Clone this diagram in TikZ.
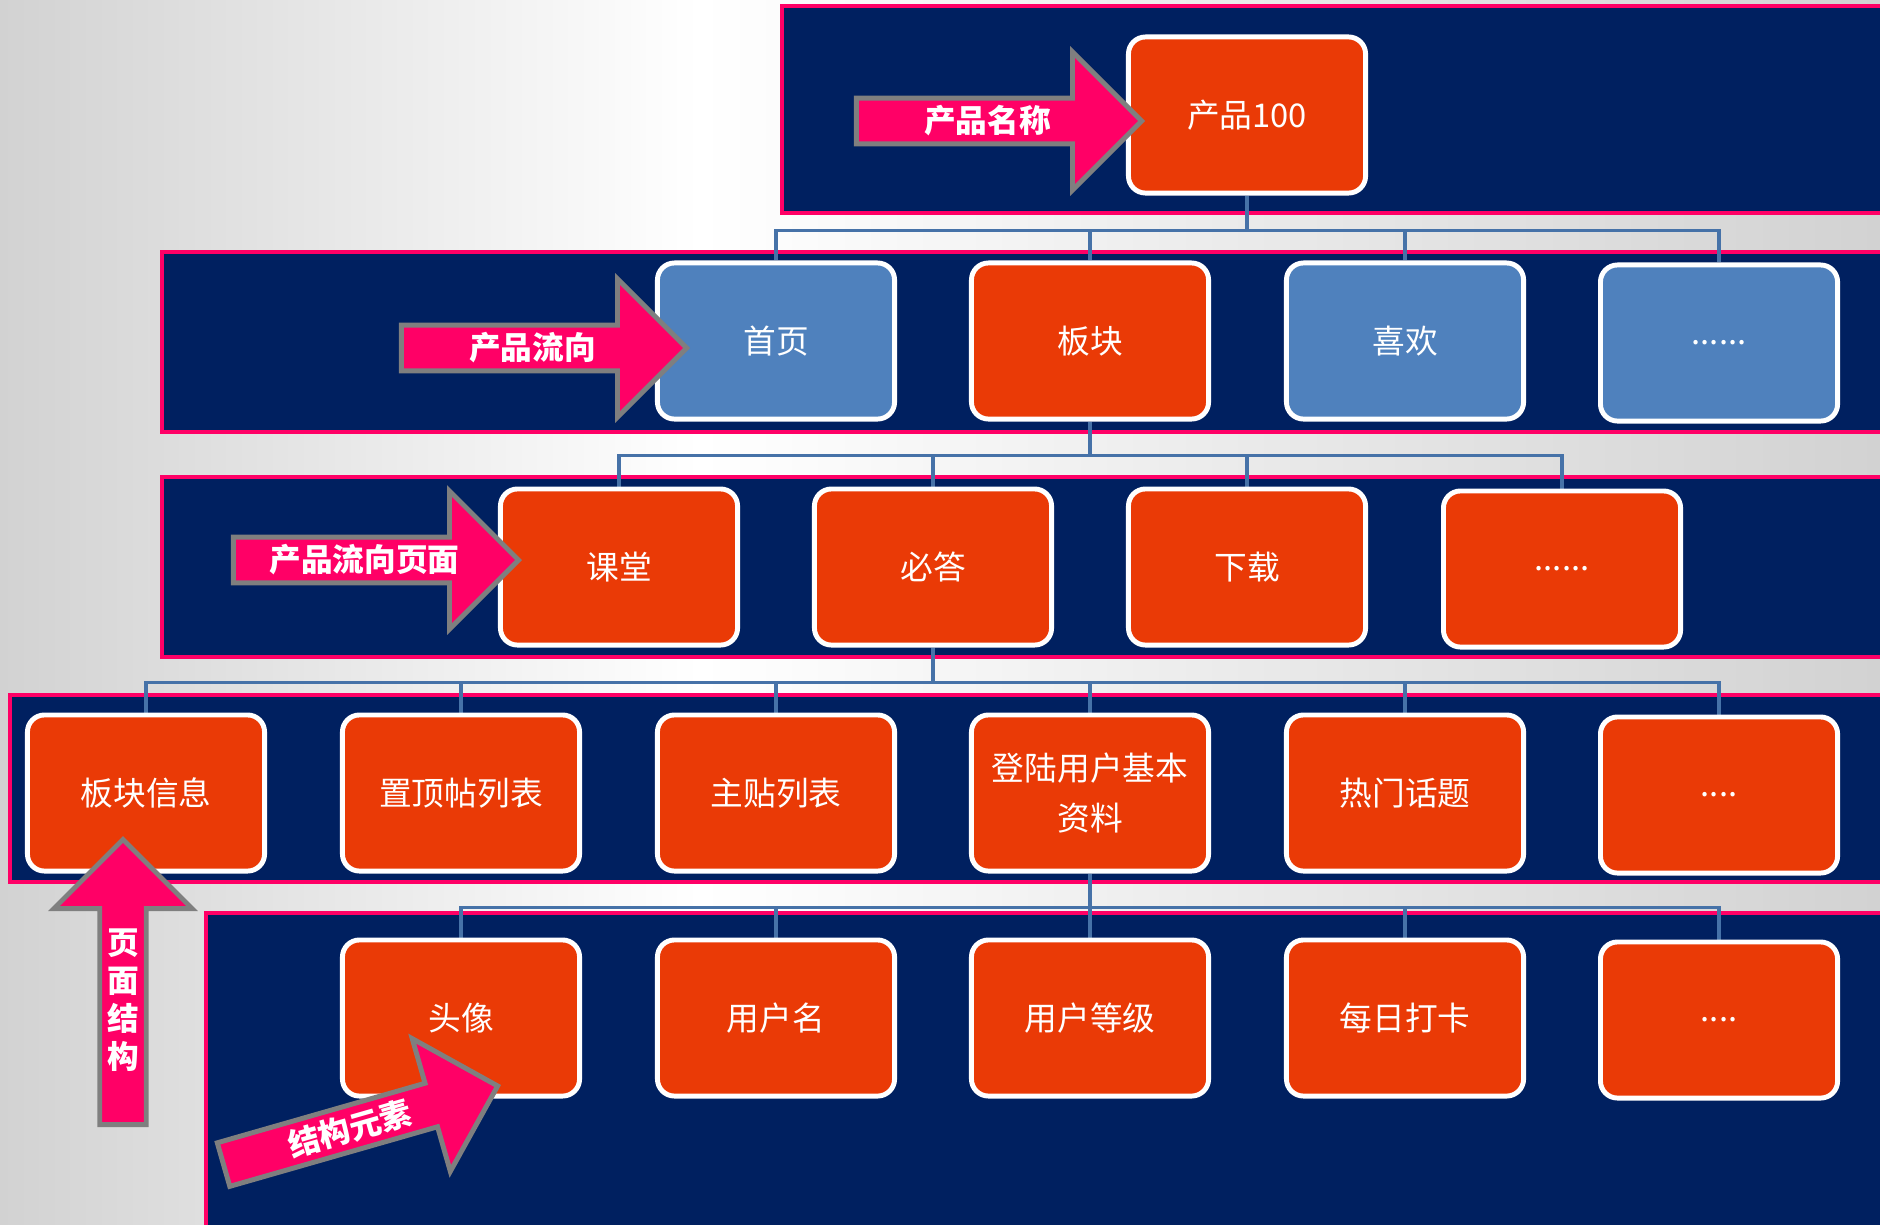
\documentclass[tikz,border=0pt]{standalone}
\usepackage{fontspec}
\newfontfamily\cjk{Noto Sans CJK SC}
\usetikzlibrary{shapes.arrows}

\definecolor{bandnavy}{HTML}{002060}
\definecolor{bandpink}{HTML}{FF0066}
\definecolor{itemorange}{HTML}{EA3A06}
\definecolor{itemblue}{HTML}{4F81BD}
\definecolor{connblue}{HTML}{4672A8}
\definecolor{arrowgray}{HTML}{7F7F7F}
\definecolor{backgray}{HTML}{D2D2D2}

\pgfdeclarelayer{back}
\pgfdeclarelayer{links}
\pgfsetlayers{back,links,main}

\tikzset{
  band/.style={draw=bandpink, fill=bandnavy, line width=1.4pt},
  item/.style={draw=white, fill=itemorange, line width=1.4pt, rounded corners=0.17cm,
    minimum width=2.37cm, minimum height=1.56cm, text=white, align=center,
    font=\cjk\fontsize{9.3}{14}\selectfont},
  blueitem/.style={item, fill=itemblue},
  conn/.style={draw=connblue, line width=1.1pt},
  flow/.style={single arrow, draw=arrowgray, fill=bandpink, line width=1.4pt,
    minimum height=2.85cm, minimum width=1.38cm, single arrow head extend=0.36cm,
    inner sep=0pt, text=white, align=center, font=\cjk\bfseries\fontsize{9}{10.8}\selectfont},
}

\begin{document}
\begin{tikzpicture}[x=0.01cm, y=-0.01cm]

\useasboundingbox (0,0) rectangle (1880,1224);
\clip (0,0) rectangle (1880,1224);

% background and bands
\begin{pgfonlayer}{back}
\begin{scope}[y=0.01cm]
\shade[left color=backgray, right color=white] (0,-1224) rectangle (700,0);
\shade[left color=white, right color=backgray] (700,-1224) rectangle (1880,0);
\end{scope}
\draw[band] (782,6) rectangle (1900,213);
\draw[band] (162,252) rectangle (1900,432);
\draw[band] (162,477) rectangle (1900,657);
\draw[band] (10,695) rectangle (1900,882);
\draw[band] (206,913) rectangle (1900,1240);
\end{pgfonlayer}

% product
\node[item] (p100) at (1247,115) {产品100};

% flow
\node[blueitem] (home) at (776,341) {首页};
\node[item] (board) at (1090,341) {板块};
\node[blueitem] (like) at (1405,341) {喜欢};
\node[blueitem] (more2) at (1719,343) {......};

% pages
\node[item] (cls) at (619,567) {课堂};
\node[item] (ans) at (933,567) {必答};
\node[item] (dl) at (1247,567) {下载};
\node[item] (more3) at (1562,569) {......};

% page structure
\node[item] (info) at (146,793) {板块信息};
\node[item] (top) at (461,793) {置顶帖列表};
\node[item] (posts) at (776,793) {主贴列表};
\node[item] (user) at (1090,793) {登陆用户基本\\资料};
\node[item] (hot) at (1405,793) {热门话题};
\node[item] (more4) at (1719,795) {....};

% elements
\node[item] (avatar) at (461,1018) {头像};
\node[item] (uname) at (776,1018) {用户名};
\node[item] (level) at (1090,1018) {用户等级};
\node[item] (checkin) at (1405,1018) {每日打卡};
\node[item] (more5) at (1719,1020) {....};

% connectors
\begin{pgfonlayer}{links}
\foreach \c in {home,board,like,more2}
  \draw[conn] (p100.south) -- ++(0,35) -| (\c.north);
\foreach \c in {cls,ans,dl,more3}
  \draw[conn] (board.south) -- ++(0,34) -| (\c.north);
\foreach \c in {info,top,posts,user,hot,more4}
  \draw[conn] (ans.south) -- ++(0,35) -| (\c.north);
\foreach \c in {avatar,uname,level,checkin,more5}
  \draw[conn] (user.south) -- ++(0,34) -| (\c.north);
\end{pgfonlayer}

% labels
\node[flow, anchor=tip] (aname) at (1145,121) {产品名称};
\node[flow, anchor=tip] (aflow) at (690,348) {产品流向};
\node[flow, anchor=tip] (apage) at (522,560) {产品流向页面};
\node[flow, anchor=tip, shape border rotate=90] (astruct) at (123,836) {\\页\\面\\结\\构};
\node[flow, anchor=tip, rotate=16] (aelem) at (501,1085) {结构元素};

\end{tikzpicture}
\end{document}
